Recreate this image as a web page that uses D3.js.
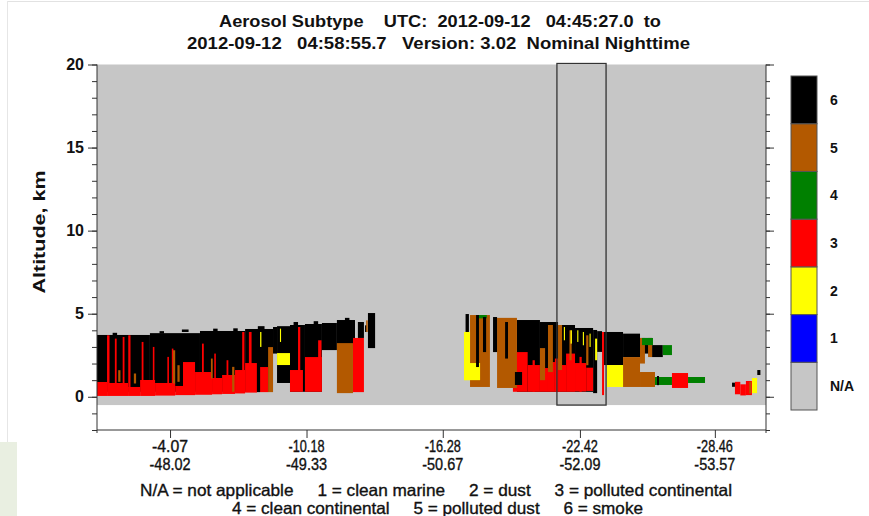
<!DOCTYPE html>
<html><head><meta charset="utf-8">
<script src="https://cdn.jsdelivr.net/npm/d3@7"></script>
<style>
body{margin:0;background:#fff;}
text{font-family:"Liberation Sans",Arial,Helvetica,sans-serif;fill:#111;}
</style>
</head><body><svg id="c" width="869" height="516"></svg>
<script>
// ---------- data ----------
const latTicks = [-4.07, -10.18, -16.28, -22.42, -28.46];
const lonTicks = [-48.02, -49.33, -50.67, -52.09, -53.57];
const altTicks = [0, 5, 10, 15, 20];
const latDomain = [-0.8, -30.75];
const altDomain = [-2, 20];
const subtypeLabels = ["N/A", "1", "2", "3", "4", "5", "6"];
const subtypeColors = ["#c6c6c6", "#0000ff", "#ffff00", "#ff0000", "#008000", "#b35900", "#000000"];
const titleLines = ["Aerosol Subtype    UTC:  2012-09-12   04:45:27.0  to",
                    "2012-09-12   04:58:55.7   Version: 3.02  Nominal Nighttime"];
const legendLines = ["N/A = not applicable     1 = clean marine     2 = dust     3 = polluted continental",
                     "4 = clean continental     5 = polluted dust     6 = smoke"];
const selectedLat = [-21.39, -23.59];
const surfaceAlt = -0.5;

// segments: [latStart, latEnd, bottomKm, topKm]
const smoke = [
  [-0.80,-3.17,0.3,3.72],[-3.17,-5.41,0.3,3.83],[-5.41,-7.43,0.3,3.96],[-7.43,-8.68,0.3,4.08],
  [-8.68,-8.86,2.6,4.2],[-8.86,-9.44,0.83,4.25],[-9.44,-10.11,0.3,4.32],[-10.11,-10.87,0.3,4.38],
  [-10.87,-11.54,2.81,4.44],[-11.54,-12.26,2.9,4.62],[-12.26,-12.35,3.5,4.62],[-12.48,-12.75,3.54,4.5],
  [-12.93,-13.25,2.93,5.04],[-12.80,-12.88,3.9,4.3],
  [-1.5,-1.7,3.6,3.85],[-3.6,-3.8,3.8,3.95],[-4.6,-4.9,3.9,4.05],[-6.0,-6.2,3.9,4.1],[-6.9,-7.1,3.9,4.12],
  [-8.0,-8.3,4.0,4.25],[-9.6,-9.8,4.3,4.5],[-10.5,-10.7,4.3,4.55],[-11.9,-12.1,4.5,4.75],
  [-17.30,-17.45,3.9,4.98],
  [-19.60,-20.63,0.3,4.62],[-20.63,-21.44,0.3,4.5],[-21.44,-22.20,0.3,4.32],[-22.20,-23.01,0.3,4.14],
  [-23.01,-23.19,0.22,4.02],[-23.19,-23.41,2.7,3.95],[-23.50,-24.35,1.91,3.9],[-24.35,-25.11,2.39,3.8],
  [-25.11,-25.65,2.6,3.54],[-25.65,-26.13,2.39,3.11],
  [-30.36,-30.50,1.31,1.61],[-29.23,-29.36,0.6,0.85]
];
const pollutedContinental = [
  [-0.80,-1.25,0.05,0.89],[-1.25,-2.19,0.05,0.83],[-2.19,-2.73,0.05,0.59],[-2.73,-3.40,0.05,1.01],
  [-3.40,-4.30,0.07,0.83],[-4.30,-4.65,0.1,0.65],[-4.65,-5.19,0.1,2.09],[-5.19,-5.95,0.12,1.49],
  [-5.95,-6.40,0.15,1.13],[-6.40,-6.98,0.17,1.31],[-6.98,-7.43,0.2,1.61],[-7.43,-7.96,0.25,2.03],
  [-8.10,-8.46,0.28,1.79],[-9.44,-10.02,0.3,1.61],[-10.11,-10.87,0.3,2.39],[-12.26,-12.75,0.28,3.54],
  [-1.25,-1.36,0.8,3.7],[-1.60,-1.68,0.8,3.5],[-1.95,-2.03,0.8,3.6],[-2.20,-2.30,0.5,3.7],
  [-2.80,-2.88,0.9,3.3],[-3.30,-3.37,0.8,3.0],[-3.95,-4.02,0.8,2.4],[-4.15,-4.22,0.8,2.9],
  [-5.50,-5.58,1.4,3.2],[-6.05,-6.12,1.0,2.6],[-6.60,-6.68,1.2,2.2],[-7.30,-7.40,1.5,3.9],
  [-7.60,-7.72,1.9,3.9],[-9.80,-9.90,1.5,4.2],[-10.70,-10.85,2.3,3.4],
  [-19.42,-20.08,0.3,2.69],[-20.08,-20.63,0.3,1.91],[-20.30,-20.40,0.3,2.2],[-20.63,-20.99,0.3,1.73],
  [-20.99,-21.30,0.3,2.09],[-21.30,-21.44,0.3,2.3],[-21.44,-21.80,0.3,1.91],[-21.80,-22.20,0.3,2.6],
  [-22.20,-22.70,0.32,2.03],[-22.40,-22.50,0.3,2.4],[-22.70,-23.01,0.35,1.75],
  [-23.41,-23.50,0.1,3.9],[-26.54,-27.26,0.53,1.43],
  [-29.36,-29.60,0.15,0.9],[-29.60,-29.85,0.08,0.75],[-29.85,-30.12,0.1,0.95]
];
const pollutedDust = [
  [-4.20,-4.30,0.8,2.8],[-4.40,-4.50,0.9,1.9],[-1.75,-1.85,0.9,1.6],[-2.45,-2.55,0.8,1.4],
  [-5.90,-5.98,1.1,2.3],[-6.85,-6.95,0.3,1.8],[-8.46,-8.68,0.28,2.99],[-11.54,-12.26,0.22,3.23],
  [-12.85,-12.92,3.9,4.6],
  [-17.50,-18.39,0.59,4.92],[-18.71,-19.60,0.53,4.75],[-20.63,-20.86,1.0,2.93],[-20.99,-21.21,1.49,4.32],
  [-21.44,-21.62,1.61,4.32],[-21.95,-22.05,2.2,4.0],[-22.70,-22.80,1.9,3.7],
  [-24.35,-25.11,0.59,2.39],[-25.11,-25.78,0.59,1.49],[-25.11,-25.33,2.0,3.54],[-25.47,-25.65,2.39,3.54],
  [-30.00,-30.08,0.2,0.9]
];
const dust = [
  [-8.86,-9.44,1.91,2.63],[-8.10,-8.16,3.0,3.9],[-8.99,-9.04,3.3,4.1],
  [-17.23,-17.50,1.0,3.9],[-17.23,-17.95,1.0,2.03],[-23.63,-24.35,0.59,1.91],[-30.12,-30.35,0.22,1.13],
  [-23.10,-23.19,2.2,3.5],[-21.70,-21.75,3.4,4.2],[-22.00,-22.06,3.2,4.0],[-22.30,-22.35,3.3,4.0],
  [-22.55,-22.60,3.1,3.9],[-22.85,-22.90,3.0,3.8]
];
const cleanContinental = [
  [-17.85,-18.25,4.72,4.92],[-25.20,-25.69,3.11,3.54],[-26.13,-26.54,2.51,3.11],
  [-25.78,-26.54,0.71,1.19],[-27.26,-28.02,0.83,1.19]
];
const smokeStreaks = [
  [-17.77,-17.90,1.79,4.92],[-18.08,-18.22,2.69,4.8],[-18.53,-18.71,2.69,4.8],[-19.07,-19.20,2.3,4.5],
  [-25.87,-25.96,0.7,1.25],[-19.51,-19.83,0.71,1.49],[-7.96,-8.10,0.28,4.08]
];

// ---------- drawing ----------
const svg = d3.select("#c");
const x = d3.scaleLinear().domain(latDomain).range([97, 766]);
const y = d3.scaleLinear().domain(altDomain).range([430, 64.5]);
const color = d3.scaleOrdinal().domain(subtypeLabels).range(subtypeColors);
const fmt = v => d3.format(".2f")(v).replace("\u2212", "-");

// faint page frame of the screenshot
svg.append("rect").attr("x", 0).attr("y", 442).attr("width", 17).attr("height", 74).attr("fill", "#e9efe1");
svg.append("line").attr("x1", 7).attr("x2", 869).attr("y1", 1.5).attr("y2", 1.5).attr("stroke", "#e2e2e2");
svg.append("line").attr("x1", 7.5).attr("x2", 7.5).attr("y1", 1).attr("y2", 442).attr("stroke", "#e6e6e6");

// background N/A
svg.append("rect").attr("x", x(latDomain[0])).attr("width", x(latDomain[1]) - x(latDomain[0]))
  .attr("y", y(altDomain[1])).attr("height", y(surfaceAlt) - y(altDomain[1])).attr("fill", color("N/A"));

const layers = [[smoke, "6"], [pollutedContinental, "3"], [pollutedDust, "5"], [dust, "2"],
                [cleanContinental, "4"], [smokeStreaks, "6"]];
const gData = svg.append("g");
layers.forEach(([arr, t]) => {
  gData.append("g").selectAll("rect").data(arr).join("rect")
    .attr("x", d => x(d[0])).attr("width", d => x(d[1]) - x(d[0]))
    .attr("y", d => y(d[3])).attr("height", d => y(d[2]) - y(d[3]))
    .attr("fill", color(t));
});

// selected box
svg.append("rect").attr("x", x(selectedLat[0])).attr("width", x(selectedLat[1]) - x(selectedLat[0]))
  .attr("y", y(altDomain[1]) - 1).attr("height", y(surfaceAlt) - y(altDomain[1]) + 1)
  .attr("fill", "none").attr("stroke", "#333").attr("stroke-width", 1.3);

// axes
const minor = d3.range(altDomain[0], altDomain[1] + 1);
function styleAxis(g) { g.selectAll("path,line").attr("stroke", "#333"); g.select(".domain").remove(); }
svg.append("g").attr("transform", `translate(${x(latDomain[0])},0)`)
  .call(d3.axisLeft(y).tickValues(minor).tickSize(5).tickFormat("")).call(styleAxis);
svg.append("g").attr("transform", `translate(${x(latDomain[0])},0)`)
  .call(d3.axisLeft(y).tickValues(altTicks).tickSize(9).tickPadding(4).tickFormat(d3.format("d")))
  .call(styleAxis)
  .selectAll("text").attr("font-size", 16).attr("font-weight", "bold").attr("fill", "#111");
svg.append("g").attr("transform", `translate(${x(latDomain[1])},0)`)
  .call(d3.axisRight(y).tickValues(minor).tickSize(4).tickFormat("")).call(styleAxis);
svg.append("g").attr("transform", `translate(${x(latDomain[1])},0)`)
  .call(d3.axisRight(y).tickValues(altTicks).tickSize(8).tickFormat("")).call(styleAxis);
svg.append("g").attr("transform", `translate(0,${y(altDomain[0])})`)
  .call(d3.axisBottom(x).tickValues(latTicks).tickSize(8).tickFormat("")).call(styleAxis);
// axis lines
const ax = svg.append("g").attr("stroke", "#333").attr("stroke-width", 1);
ax.append("line").attr("x1", x(latDomain[0])).attr("x2", x(latDomain[0])).attr("y1", y(altDomain[1])).attr("y2", y(altDomain[0]) + 3);
ax.append("line").attr("x1", x(latDomain[1])).attr("x2", x(latDomain[1])).attr("y1", y(altDomain[1])).attr("y2", y(altDomain[0]) + 3);
ax.append("line").attr("x1", x(latDomain[0])).attr("x2", x(latDomain[1])).attr("y1", y(altDomain[0])).attr("y2", y(altDomain[0]));

// x tick labels (lat / lon)
const xl = svg.append("g").attr("text-anchor", "middle").attr("font-size", 16)
  .attr("stroke", "#111").attr("stroke-width", 0.35);
latTicks.forEach((lat, i) => {
  xl.append("text").attr("x", x(lat)).attr("y", 452).text(fmt(lat))
    .attr("textLength", 36).attr("lengthAdjust", "spacingAndGlyphs");
  xl.append("text").attr("x", x(lat)).attr("y", 470).text(fmt(lonTicks[i]))
    .attr("textLength", 41).attr("lengthAdjust", "spacingAndGlyphs");
});

// y label
svg.append("text").attr("transform", "translate(45,232) rotate(-90)").attr("text-anchor", "middle")
  .attr("font-size", 17).attr("font-weight", "bold").attr("textLength", 123).attr("lengthAdjust", "spacingAndGlyphs")
  .text("Altitude, km");

// title
const tl = [[440, 27, 442], [438.5, 49, 503]];
titleLines.forEach((t, i) => {
  svg.append("text").attr("x", tl[i][0]).attr("y", tl[i][1]).attr("text-anchor", "middle")
    .attr("font-size", 17).attr("font-weight", "bold").style("white-space", "pre")
    .attr("textLength", tl[i][2]).attr("lengthAdjust", "spacingAndGlyphs").text(t);
});

// legend text
const ll = [[436, 496, 592], [437.5, 514, 411]];
legendLines.forEach((t, i) => {
  svg.append("text").attr("x", ll[i][0]).attr("y", ll[i][1]).attr("text-anchor", "middle")
    .attr("font-size", 16.5).style("white-space", "pre").attr("stroke", "#111").attr("stroke-width", 0.35)
    .attr("textLength", ll[i][2]).attr("lengthAdjust", "spacingAndGlyphs").text(t);
});

// colorbar
const cb = d3.scaleBand().domain(subtypeLabels).range([410, 76]);
const gcb = svg.append("g");
gcb.selectAll("rect").data(subtypeLabels).join("rect")
  .attr("x", 791).attr("width", 26).attr("y", d => cb(d)).attr("height", cb.bandwidth())
  .attr("fill", d => color(d)).attr("stroke", "#555").attr("stroke-width", 1);
gcb.selectAll("text").data(subtypeLabels).join("text")
  .attr("x", 830).attr("y", d => cb(d) + cb.bandwidth() / 2).attr("dy", "0.36em")
  .attr("font-size", 14).attr("font-weight", "bold").text(d => d);
</script>
</body></html>
